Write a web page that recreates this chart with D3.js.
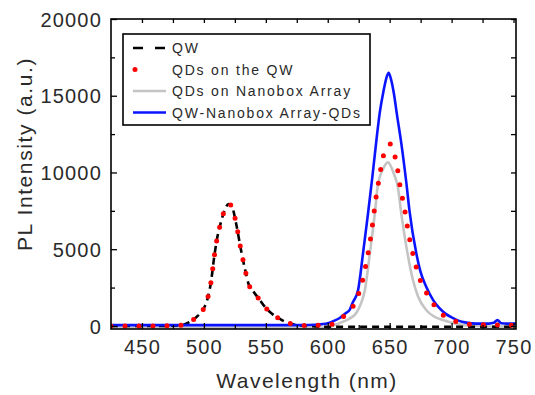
<!DOCTYPE html>
<html>
<head>
<meta charset="utf-8">
<title>PL spectra</title>
<script src="https://d3js.org/d3.v7.min.js"></script>
<style>
  body { margin: 0; background: #fff; }
  text { font-family: "Liberation Sans", Arial, sans-serif; fill: #2a2a2a; }
</style>
</head>
<body>
<div id="chart"></div>
<script>
// QW (black dashed)
let qwWl  = [425, 440, 460, 480, 489, 495, 500, 503, 506, 508, 510, 514, 517, 520, 523, 526, 530, 533, 536, 540, 545, 550, 555, 560, 565, 570, 575, 582, 600, 650, 700, 752];
let qwInt = [0, 0, 0, 30, 280, 650, 1150, 1800, 3000, 4300, 5400, 6830, 7600, 7950, 7700, 6680, 4930, 3760, 2750, 2250, 1700, 1170, 800, 520, 300, 150, 60, 0, -50, -50, -50, -50];

// QDs on the QW (red dots)
let qdWl  = [425, 440, 460, 480, 489, 495, 500, 503, 506, 508, 510, 514, 517, 520, 523, 526, 530, 533, 536, 540, 545, 550, 555, 560, 565, 570, 575, 585, 600, 608, 614, 620, 624, 627, 631, 634, 636.5, 638.7, 641.4, 644.6, 647.5, 650.5, 653, 656, 658.5, 662, 664.8, 669.4, 674.2, 681.7, 690.9, 700, 708, 720, 752];
let qdInt = [0, 0, 0, 30, 280, 650, 1150, 1800, 3000, 4300, 5400, 6830, 7600, 7950, 7700, 6680, 4930, 3760, 2750, 2250, 1700, 1170, 800, 520, 300, 150, 60, 30, 60, 300, 700, 1210, 1900, 2600, 4070, 5400, 6830, 8220, 9540, 10990, 11600, 11850, 11400, 10400, 9040, 7640, 6230, 4460, 3100, 1900, 860, 400, 200, 80, 50];

// QDs on Nanobox Array (grey)
let nbWl  = [425, 600, 605, 610, 617, 623, 627, 630, 634, 638, 640.5, 644.5, 648.6, 653, 656.7, 659.4, 663.5, 668.8, 673, 679.5, 686, 693, 706, 720, 752];
let nbInt = [-100, -100, 50, 200, 450, 840, 1500, 2340, 4740, 7310, 9200, 10200, 10660, 10000, 9000, 7310, 5150, 2990, 1900, 1040, 600, 390, 100, 0, -50];

// QW-Nanobox Array-QDs (blue)
let qnWl  = [425, 580, 590, 600, 605, 610, 614, 617.7, 620, 624.5, 628.5, 632.5, 636, 639.3, 642, 645, 647.5, 649.2, 651, 653.5, 656, 659.4, 663.5, 666, 671.5, 675, 679.5, 685, 690, 695, 700.8, 706, 711.8, 720, 730, 734, 737, 740, 745, 752];
let qnInt = [50, 50, 80, 180, 330, 530, 800, 1050, 1500, 2340, 4740, 7310, 9700, 12100, 13900, 15300, 16200, 16500, 16100, 15100, 13700, 11900, 9300, 7500, 4740, 3500, 2550, 1700, 1170, 800, 520, 330, 215, 150, 150, 200, 380, 180, 150, 150];

let xTicks = [450, 500, 550, 600, 650, 700, 750];
let yTicks = [0, 5000, 10000, 15000, 20000];
let legendNames = ["QW", "QDs on the QW", "QDs on Nanobox Array", "QW-Nanobox Array-QDs"];

let svgw = 535, svgh = 395;
let svg = d3.select('#chart').append('svg').attr('width', svgw).attr('height', svgh);

let x = d3.scaleLinear().domain([425, 752]).range([111, 516]);
let y = d3.scaleLinear().domain([-200, 20000]).range([329, 19]);

let serie = (wl, val) => wl.map((w, i) => ({w: w, v: val[i]}));
let line = d3.line().x(d => x(d.w)).y(d => y(d.v)).curve(d3.curveMonotoneX);

svg.append('clipPath').attr('id', 'clip')
  .append('rect').attr('x', 111).attr('y', 19).attr('width', 405).attr('height', 310);
let plot = svg.append('g').attr('clip-path', 'url(#clip)');

let styles = [
  {stroke: '#000', width: 2.6, dash: '7,5', cap: 'butt'},
  {stroke: '#ff0000', width: 5, dash: '0,14', cap: 'round'},
  {stroke: '#c4c4c4', width: 2.6, dash: null, cap: 'butt'},
  {stroke: '#0a14ff', width: 2.6, dash: null, cap: 'butt'}
];
let data = [serie(qwWl, qwInt), serie(qdWl, qdInt), serie(nbWl, nbInt), serie(qnWl, qnInt)];

// drawing order: grey, black, blue, red
[2, 0, 3, 1].forEach(i => {
  plot.append('path')
    .attr('d', line(data[i]))
    .attr('fill', 'none')
    .attr('stroke', styles[i].stroke)
    .attr('stroke-width', styles[i].width)
    .attr('stroke-dasharray', styles[i].dash)
    .attr('stroke-linecap', styles[i].cap)
    .attr('stroke-linejoin', 'round');
});

// axes (ticks inward on all sides)
let xMinor = d3.range(450, 751, 25);
let yMinor = d3.range(2500, 20000, 5000);
let bottom = svg.append('g').attr('transform', 'translate(0,329)')
  .call(d3.axisBottom(x).tickValues(xTicks).tickSize(-6).tickPadding(11).tickFormat(d3.format('d')));
svg.append('g').attr('transform', 'translate(0,329)')
  .call(d3.axisBottom(x).tickValues(xMinor.filter(v => v % 50)).tickSize(-4).tickFormat(''));
let left = svg.append('g').attr('transform', 'translate(111,0)')
  .call(d3.axisLeft(y).tickValues(yTicks).tickSize(-6).tickPadding(9).tickFormat(d3.format('d')));
svg.append('g').attr('transform', 'translate(111,0)')
  .call(d3.axisLeft(y).tickValues(yMinor).tickSize(-4).tickFormat(''));
svg.append('g').attr('transform', 'translate(0,19)')
  .call(d3.axisTop(x).tickValues(xMinor).tickSize(-4).tickFormat(''));
svg.append('g').attr('transform', 'translate(516,0)')
  .call(d3.axisRight(y).tickValues(yTicks.concat(yMinor)).tickSize(-5).tickFormat(''));

svg.selectAll('.domain').remove();
svg.selectAll('.tick line').attr('stroke', '#000').attr('stroke-width', 1.3);
bottom.selectAll('text').attr('font-size', 20).attr('letter-spacing', 1.2).attr('fill', '#2a2a2a')
  .attr('font-family', '"Liberation Sans", Arial, sans-serif');
left.selectAll('text').attr('font-size', 20).attr('letter-spacing', 1.2).attr('fill', '#2a2a2a')
  .attr('font-family', '"Liberation Sans", Arial, sans-serif').attr('dy', '0.36em');

// frame
svg.append('rect').attr('x', 111).attr('y', 19).attr('width', 405).attr('height', 310)
  .attr('fill', 'none').attr('stroke', '#000').attr('stroke-width', 1.6);

// axis titles
svg.append('text').attr('x', 307).attr('y', 388).attr('text-anchor', 'middle')
  .attr('font-size', 21).attr('letter-spacing', 1.5).text('Wavelength (nm)');
svg.append('text').attr('transform', 'translate(32,154) rotate(-90)').attr('text-anchor', 'middle')
  .attr('font-size', 21).attr('letter-spacing', 1.6).text('PL Intensity (a.u.)');

// legend
let lg = svg.append('g');
lg.append('rect').attr('x', 123).attr('y', 34).attr('width', 247).attr('height', 91)
  .attr('fill', '#fff').attr('stroke', '#000').attr('stroke-width', 1.6);
legendNames.forEach((name, i) => {
  let ly = 48 + i * 21.5;
  lg.append('line').attr('x1', i === 1 ? 135 : 133).attr('x2', i === 1 ? 160 : 166)
    .attr('y1', ly).attr('y2', ly)
    .attr('stroke', styles[i].stroke).attr('stroke-width', styles[i].width)
    .attr('stroke-dasharray', i === 0 ? '10,12' : i === 1 ? '0,25' : null)
    .attr('stroke-linecap', styles[i].cap);
  lg.append('text').attr('x', 172).attr('y', ly + 5).attr('font-size', 14)
    .attr('letter-spacing', 1.8).text(name);
});
</script>
</body>
</html>
